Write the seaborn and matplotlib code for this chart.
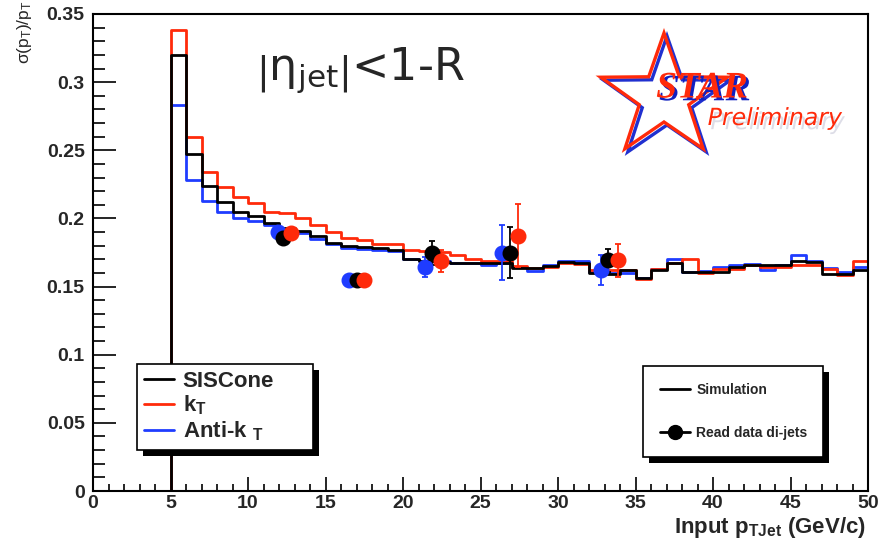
import numpy as np
import pandas as pd
import matplotlib
matplotlib.use("Agg")
import matplotlib.pyplot as plt
import seaborn as sns
from matplotlib import font_manager
from matplotlib.lines import Line2D
from matplotlib.patches import Rectangle, Polygon
from matplotlib.transforms import IdentityTransform
import matplotlib.patheffects as pe

# ---------------- data ----------------
bin_edges = np.arange(0, 51, 1)
siscone = [0, 0, 0, 0, 0,
           0.320, 0.247, 0.224, 0.212, 0.205, 0.202, 0.197, 0.193, 0.1905, 0.187,
           0.182, 0.180, 0.179, 0.178, 0.177, 0.170, 0.169, 0.168, 0.1675, 0.1675,
           0.1675, 0.1675, 0.1637, 0.1633, 0.165, 0.168, 0.167, 0.160, 0.159, 0.1625,
           0.156, 0.1625, 0.1674, 0.1608, 0.161, 0.161, 0.164, 0.1657, 0.1657, 0.166,
           0.1686, 0.168, 0.159, 0.159, 0.1625]
kt = [0, 0, 0, 0, 0,
      0.338, 0.260, 0.234, 0.223, 0.216, 0.211, 0.205, 0.204, 0.2005, 0.1954,
      0.190, 0.186, 0.1844, 0.1815, 0.181, 0.1766, 0.176, 0.1754, 0.173, 0.170,
      0.169, 0.169, 0.165, 0.1633, 0.1645, 0.1674, 0.1662, 0.162, 0.1625, 0.1625,
      0.1552, 0.163, 0.1674, 0.170, 0.1596, 0.163, 0.163, 0.1655, 0.1645, 0.1645,
      0.1655, 0.1655, 0.163, 0.1587, 0.169]
antikt = [0, 0, 0, 0, 0,
          0.283, 0.228, 0.213, 0.205, 0.200, 0.198, 0.195, 0.190, 0.189, 0.185,
          0.181, 0.178, 0.1775, 0.177, 0.176, 0.170, 0.169, 0.1686, 0.1675, 0.167,
          0.1657, 0.1675, 0.164, 0.1613, 0.166, 0.169, 0.169, 0.161, 0.160, 0.160,
          0.156, 0.163, 0.170, 0.1608, 0.1615, 0.1645, 0.1657, 0.1667, 0.1625, 0.1655,
          0.173, 0.169, 0.1635, 0.161, 0.164]

# measured di-jet points
data_x_antikt = [11.94, 16.5, 21.44, 26.4, 32.8]
data_y_antikt = [0.190, 0.1545, 0.1642, 0.175, 0.1625]
data_e_antikt = [0.002, 0.001, 0.0072, 0.0205, 0.011]
data_x_siscone = [12.26, 17.0, 21.9, 26.9, 33.2]
data_y_siscone = [0.186, 0.1545, 0.1747, 0.175, 0.1693]
data_e_siscone = [0.002, 0.001, 0.009, 0.019, 0.0085]
data_x_kt = [12.77, 17.5, 22.45, 27.44, 33.85]
data_y_kt = [0.189, 0.1545, 0.169, 0.1873, 0.1693]
data_e_kt = [0.002, 0.001, 0.008, 0.0232, 0.0122]

x_tick_labels = ["0", "5", "10", "15", "20", "25", "30", "35", "40", "45", "50"]
y_tick_labels = ["0", "0.05", "0.1", "0.15", "0.2", "0.25", "0.3", "0.35"]

alg_names = ["SISCone", "kT", "Anti-kT"]
colors = {"SISCone": "#000000", "kT": "#ff2a0a", "Anti-kT": "#1f3cff"}

# ---------------- style ----------------
sns.set_theme(style="ticks")
plt.rcParams["font.family"] = ["Liberation Sans", "DejaVu Sans"]
names = {f.name for f in font_manager.fontManager.ttflist}
narrow = "Liberation Sans Narrow" in names
narrow_family = ["Liberation Sans Narrow", "Liberation Sans"] if narrow else ["Liberation Sans"]
plt.rcParams["mathtext.fontset"] = "custom"
plt.rcParams["mathtext.rm"] = "Liberation Sans"
plt.rcParams["mathtext.it"] = "Liberation Sans:italic"
plt.rcParams["mathtext.bf"] = "Liberation Sans:bold"
plt.rcParams["mathtext.sf"] = "Liberation Sans"

W, H = 881, 544
fig = plt.figure(figsize=(W / 100, H / 100), dpi=100)
fig.patch.set_facecolor("white")
ax = fig.add_axes([93 / W, 53 / H, 775 / W, 477 / H])

centers = (bin_edges[:-1] + bin_edges[1:]) / 2
df = pd.DataFrame({
    "pt": np.tile(centers, 3),
    "sigma": np.concatenate([siscone, kt, antikt]),
    "alg": np.repeat(alg_names, len(centers)),
})
sns.histplot(data=df, x="pt", weights="sigma", hue="alg", hue_order=alg_names,
             palette=colors, binwidth=1, binrange=(0, 50), element="step", fill=False,
             linewidth=2.0, legend=False, ax=ax)

for xs, ys, es, name in [(data_x_antikt, data_y_antikt, data_e_antikt, "Anti-kT"),
                         (data_x_siscone, data_y_siscone, data_e_siscone, "SISCone"),
                         (data_x_kt, data_y_kt, data_e_kt, "kT")]:
    ax.errorbar(xs, ys, yerr=es, fmt="o", color=colors[name], ms=10.5,
                elinewidth=1.3, capsize=2.5, capthick=1.3, zorder=4)

ax.set_xlim(0, 50)
ax.set_ylim(0, 0.35)
ax.set_xlabel("")
ax.set_ylabel("")
ax.set_xticks(np.arange(0, 51, 5))
ax.set_xticks(np.arange(0, 51, 1), minor=True)
ax.set_xticklabels(x_tick_labels, family=narrow_family, fontweight="bold",
                   fontsize=16 if narrow else 14)
ax.set_yticks(np.arange(0, 0.351, 0.05))
ax.set_yticks(np.arange(0, 0.351, 0.01), minor=True)
ax.set_yticklabels(y_tick_labels, fontweight="bold", fontsize=14)
ax.tick_params(which="both", direction="in", top=False, right=False, width=1.2, color="black")
ax.tick_params(axis="x", which="major", length=10, pad=3)
ax.tick_params(axis="x", which="minor", length=5)
ax.tick_params(axis="y", which="major", length=16.5, pad=6)
ax.tick_params(axis="y", which="minor", length=8.3)
for s in ax.spines.values():
    s.set_visible(True)
    s.set_linewidth(1.5)
    s.set_color("black")
ax.set_facecolor("white")

# axis titles
fig.text(866 / W, 1 - 527 / H, r"Input p$_{\mathbf{TJet}}$ (GeV/c)", ha="right", va="center",
         family=narrow_family, fontweight="bold", fontsize=18 if narrow else 16)
fig.text(25 / W, 1 - 32 / H, r"$\mathrm{\sigma}$(p$_{\mathrm{T}}$)/p$_{\mathrm{T}}$",
         rotation=90, ha="center", va="center", fontsize=12.5)

# eta annotation
fig.text(256 / W, 1 - 80 / H, r"$\left|\mathrm{\eta}_{\mathrm{jet}}\right|$<1-R",
         ha="left", va="baseline", fontsize=32, family="DejaVu Sans",
         math_fontfamily="dejavusans")

# STAR Preliminary logo (decoration)
cx, cy, R, r = 664, 97, 64, 25
ang_out = np.pi / 2 + np.arange(5) * 2 * np.pi / 5
ang_in = ang_out + np.pi / 5
verts = []
for ao, ai in zip(ang_out, ang_in):
    verts.append((cx + 1.04 * R * np.cos(ao), cy - R * np.sin(ao)))
    verts.append((cx + 1.04 * r * np.cos(ai), cy - r * np.sin(ai)))
verts = np.array(verts)
for off, col in [((3, 3), "#2030d0"), ((0, 0), "#ff2a0a")]:
    v = np.column_stack([(verts[:, 0] + off[0]) / W, 1 - (verts[:, 1] + off[1]) / H])
    fig.add_artist(Polygon(v, closed=True, fill=False, edgecolor=col, lw=2.4,
                           transform=fig.transFigure, zorder=6))
fig.text(702 / W, 1 - 88 / H, "STAR", ha="center", va="center", fontsize=27,
         family="Liberation Serif", fontweight="bold", style="italic", color="#ff2a0a",
         zorder=7,
         path_effects=[pe.withSimplePatchShadow(offset=(2, -2), shadow_rgbFace="#1020c0", alpha=1.0)])
fig.text(775 / W, 1 - 118 / H, "Preliminary", ha="center", va="center", fontsize=17,
         family="DejaVu Sans", style="italic", color="#ff2a0a", zorder=7,
         path_effects=[pe.withSimplePatchShadow(offset=(2, -3), shadow_rgbFace="#9090b0", alpha=0.3)])

# legends
h1 = [Line2D([], [], color=colors[n], lw=2) for n in alg_names]
l1 = ["SISCone", r"k$_{\mathbf{T}}$", r"Anti-k $_{\mathbf{T}}$"]
leg1 = ax.legend(h1, l1, loc="upper left",
                 bbox_to_anchor=(137 / W, 1 - 450 / H, 176 / W, 86 / H),
                 bbox_transform=fig.transFigure, mode="expand", borderaxespad=0,
                 prop={"weight": "bold", "size": 16}, fancybox=False, framealpha=1,
                 edgecolor="black", handlelength=1.35, handletextpad=0.4,
                 labelspacing=0.1, borderpad=0.3)
leg1.get_frame().set_linewidth(1.2)
ax.add_artist(leg1)

h2 = [Line2D([], [], color="black", lw=2),
      Line2D([], [], color="black", lw=2, marker="o", ms=10)]
leg2 = ax.legend(h2, ["Simulation", "Read data di-jets"], loc="upper left",
                 bbox_to_anchor=(643 / W, 1 - 452 / H, 180 / W, 86 / H),
                 bbox_transform=fig.transFigure, mode="expand", borderaxespad=0,
                 prop={"weight": "bold", "size": 10}, fancybox=False, framealpha=1,
                 edgecolor="black", handlelength=2.2, handletextpad=0.45,
                 labelspacing=2.1, borderpad=1.2)
leg2.get_frame().set_linewidth(1.2)

fig.canvas.draw()
for leg in (leg1, leg2):
    bb = leg.get_frame().get_window_extent()
    shadow = Rectangle((bb.x0 + 6, bb.y0 - 6), bb.width, bb.height,
                       transform=IdentityTransform(), facecolor="black",
                       edgecolor="none", zorder=4.9, clip_on=False)
    ax.add_artist(shadow)

fig.savefig("out.png", dpi=100, facecolor="white")
